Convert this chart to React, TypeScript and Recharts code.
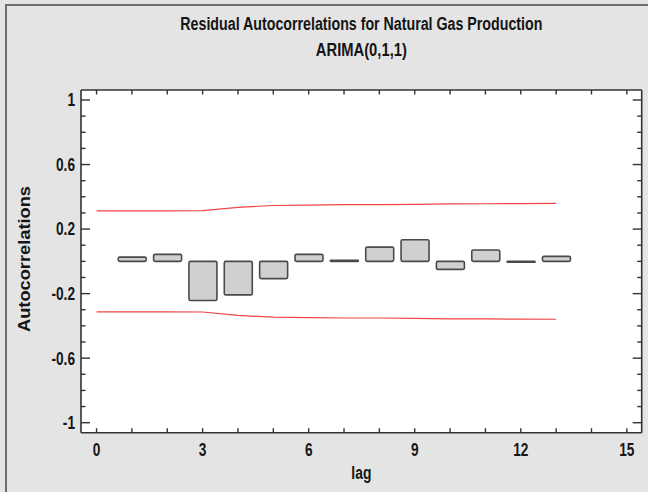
import React from 'react';
import { ComposedChart, Bar, Line, XAxis, YAxis, CartesianGrid } from 'recharts';

// residual autocorrelations by lag (lag 0 has no bar)
const lags = [0, 1, 2, 3, 4, 5, 6, 7, 8, 9, 10, 11, 12, 13];
const autocorr = [null, 0.026, 0.043, -0.243, -0.208, -0.107, 0.043, 0.006, 0.088, 0.134, -0.05, 0.07, -0.006, 0.031];
// 95% probability limits
const upperLimit = [0.313, 0.313, 0.313, 0.314, 0.335, 0.346, 0.349, 0.351, 0.351, 0.353, 0.356, 0.357, 0.358, 0.359];
const lowerLimit = [-0.313, -0.313, -0.313, -0.314, -0.335, -0.346, -0.349, -0.351, -0.351, -0.353, -0.356, -0.357, -0.358, -0.359];

const xTicks = [0, 1, 2, 3, 4, 5, 6, 7, 8, 9, 10, 11, 12, 13, 14, 15];
const xLabels = [0, 3, 6, 9, 12, 15];
const yTicks = [-1, -0.9, -0.8, -0.7, -0.6, -0.5, -0.4, -0.3, -0.2, -0.1, 0, 0.1, 0.2, 0.3, 0.4, 0.5, 0.6, 0.7, 0.8, 0.9, 1];
const yLabels = [-1, -0.6, -0.2, 0.2, 0.6, 1];

const data = lags.map((lag, i) => ({
  lag,
  acf: autocorr[i],
  upper: upperLimit[i],
  lower: lowerLimit[i],
}));

const W = 648;
const H = 492;
const PLOT = { left: 81, right: 641.7, top: 90, bottom: 432.7 };
const X_DOMAIN = [-0.44, 15.42];
const Y_DOMAIN = [-1.062, 1.062];
const LEFT_W = 60;
const RIGHT_W = 5;
const BOTTOM_H = 40;
const TOP_H = 10;

const FRAME = '#333333';
const FONT = 'Liberation Sans, Arial, Helvetica, sans-serif';

const isIn = (list: number[], v: number) => list.some((t) => Math.abs(t - v) < 1e-6);

const tickText = (x: number, y: number, label: string, anchor: 'end' | 'middle') => (
  <text
    transform={`translate(${x},${y}) scale(0.76,1)`}
    textAnchor={anchor}
    fontFamily={FONT}
    fontWeight={700}
    fontSize={18}
    fill="#151515"
  >
    {label}
  </text>
);

const LeftTick = (props: any) => {
  const { y, payload } = props;
  const x = PLOT.left;
  const major = isIn(yLabels, payload.value);
  return (
    <g>
      <line x1={x} x2={x + (major ? 9 : 4.5)} y1={y} y2={y} stroke={FRAME} strokeWidth={1.4} />
      {major && tickText(x - 6, y + 6.4, String(payload.value), 'end')}
    </g>
  );
};

const RightTick = (props: any) => {
  const { y, payload } = props;
  const x = PLOT.right;
  const major = isIn(yLabels, payload.value);
  return <line x1={x} x2={x - (major ? 9 : 4.5)} y1={y} y2={y} stroke={FRAME} strokeWidth={1.4} />;
};

const BottomTick = (props: any) => {
  const { x, payload } = props;
  const y = PLOT.bottom;
  const major = isIn(xLabels, payload.value);
  return (
    <g>
      <line x1={x} x2={x} y1={y} y2={y - 4.5} stroke={FRAME} strokeWidth={1.4} />
      {major && tickText(x, y + 23.5, String(payload.value), 'middle')}
    </g>
  );
};

const TopTick = (props: any) => {
  const { x } = props;
  const y = PLOT.top;
  return <line x1={x} x2={x} y1={y} y2={y + 4.5} stroke={FRAME} strokeWidth={1.4} />;
};

const XTitle = () => (
  <text
    x={(PLOT.left + PLOT.right) / 2}
    y={479}
    textAnchor="middle"
    fontFamily={FONT}
    fontWeight={700}
    fontSize={18}
    textLength={20}
    lengthAdjust="spacingAndGlyphs"
    fill="#151515"
  >
    lag
  </text>
);

const YTitle = () => (
  <text
    transform={`translate(30,259) rotate(-90)`}
    textAnchor="middle"
    fontFamily={FONT}
    fontWeight={700}
    fontSize={17}
    textLength={146}
    lengthAdjust="spacingAndGlyphs"
    fill="#151515"
  >
    Autocorrelations
  </text>
);

export default function App() {
  const cx = (PLOT.left + PLOT.right) / 2;
  return (
    <div
      style={{
        position: 'absolute',
        left: 0,
        top: 0,
        width: W,
        height: H,
        background: '#e4e4e4',
        overflow: 'hidden',
      }}
    >
      <div
        style={{
          position: 'absolute',
          left: 5,
          top: 4,
          width: 700,
          height: 600,
          border: '2px solid #6e6e6e',
        }}
      />
      <div style={{ position: 'absolute', left: 0, top: 0 }}>
        <ComposedChart
          width={W}
          height={H}
          data={data}
          margin={{
            top: PLOT.top - TOP_H,
            right: W - PLOT.right - RIGHT_W,
            bottom: H - PLOT.bottom - BOTTOM_H,
            left: PLOT.left - LEFT_W,
          }}
        >
          <CartesianGrid xAxisId="bottom" yAxisId="left" horizontal={false} vertical={false} fill="#ffffff" />
          <XAxis
            xAxisId="bottom"
            dataKey="lag"
            type="number"
            domain={X_DOMAIN}
            allowDataOverflow
            ticks={xTicks}
            interval={0}
            height={BOTTOM_H}
            tickSize={0}
            tickMargin={0}
            tick={BottomTick}
            tickLine={false}
            axisLine={{ stroke: FRAME, strokeWidth: 1.6 }}
            label={{ content: () => <XTitle /> }}
          />
          <XAxis
            xAxisId="top"
            orientation="top"
            dataKey="lag"
            type="number"
            domain={X_DOMAIN}
            allowDataOverflow
            ticks={xTicks}
            interval={0}
            height={TOP_H}
            tickSize={0}
            tickMargin={0}
            tick={TopTick}
            tickLine={false}
            axisLine={{ stroke: FRAME, strokeWidth: 1.6 }}
          />
          <YAxis
            yAxisId="left"
            type="number"
            domain={Y_DOMAIN}
            allowDataOverflow
            ticks={yTicks}
            interval={0}
            width={LEFT_W}
            tickSize={0}
            tickMargin={0}
            tick={LeftTick}
            tickLine={false}
            axisLine={{ stroke: FRAME, strokeWidth: 1.6 }}
            label={{ content: () => <YTitle /> }}
          />
          <YAxis
            yAxisId="right"
            orientation="right"
            type="number"
            domain={Y_DOMAIN}
            allowDataOverflow
            ticks={yTicks}
            interval={0}
            width={RIGHT_W}
            tickSize={0}
            tickMargin={0}
            tick={RightTick}
            tickLine={false}
            axisLine={{ stroke: FRAME, strokeWidth: 1.6 }}
          />
          <Bar
            xAxisId="bottom"
            yAxisId="left"
            dataKey="acf"
            barSize={28}
            fill="#d0d0d0"
            stroke="#4a4a4a"
            strokeWidth={1.6}
            radius={1.5}
            isAnimationActive={false}
          />
          <Line
            xAxisId="top"
            yAxisId="right"
            dataKey="upper"
            type="linear"
            stroke="#f24444"
            strokeWidth={1.2}
            dot={false}
            isAnimationActive={false}
          />
          <Line
            xAxisId="bottom"
            yAxisId="left"
            dataKey="lower"
            type="linear"
            stroke="#f24444"
            strokeWidth={1.2}
            dot={false}
            isAnimationActive={false}
          />
        </ComposedChart>
      </div>
      <svg
        width={W}
        height={70}
        style={{ position: 'absolute', left: 0, top: 0, pointerEvents: 'none' }}
      >
        <text
          x={cx}
          y={30}
          textAnchor="middle"
          fontFamily={FONT}
          fontWeight={700}
          fontSize={18}
          textLength={362}
          lengthAdjust="spacingAndGlyphs"
          fill="#151515"
        >
          Residual Autocorrelations for Natural Gas Production
        </text>
        <text
          x={cx}
          y={56}
          textAnchor="middle"
          fontFamily={FONT}
          fontWeight={700}
          fontSize={18}
          textLength={91}
          lengthAdjust="spacingAndGlyphs"
          fill="#151515"
        >
          ARIMA(0,1,1)
        </text>
      </svg>
    </div>
  );
}
